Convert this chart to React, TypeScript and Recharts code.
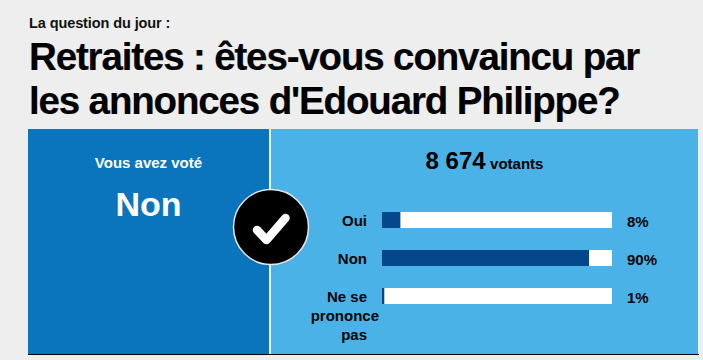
import { BarChart, Bar, XAxis, YAxis, LabelList } from 'recharts'

const categories = ['Oui', 'Non', 'Ne se prononce pas']
const shares = [8, 90, 1]

const FONT = '"Liberation Sans", Arial, sans-serif'

const rows = categories.map((name, i) => ({ name, share: shares[i] }))

// multi-line labels, "prononce" hangs out past the right edge like in the source
const CategoryTick = ({ x, y, payload }: any) => {
  const words = payload.value === 'Ne se prononce pas' ? ['Ne se', 'prononce', 'pas'] : [payload.value]
  return (
    <g>
      {words.map((w: string, i: number) => (
        <text key={w} x={w === 'prononce' ? x + 12 : x} y={y + 6 + i * 19} textAnchor="end" fontFamily={FONT} fontSize={15} fontWeight={700} fill="#050505">
          {w}
        </text>
      ))}
    </g>
  )
}

export default function App() {
  return (
    <div style={{ position: 'absolute', left: 0, top: 0, width: 703, height: 360, background: '#eeeeee', overflow: 'hidden', fontFamily: FONT, color: '#000' }}>
      <div style={{ position: 'absolute', left: 29, top: 15, fontSize: 14.5, fontWeight: 700, color: '#111', letterSpacing: -0.1 }}>La question du jour :</div>
      <div style={{ position: 'absolute', left: 29, top: 35, fontSize: 38.5, lineHeight: '44px', fontWeight: 700, letterSpacing: -1.15, whiteSpace: 'nowrap', WebkitTextStroke: '0.2px #000' }}>
        Retraites : êtes-vous convaincu par<br />les annonces d'Edouard Philippe?
      </div>

      <div style={{ position: 'absolute', left: 28, top: 129, width: 241, height: 225, background: '#0a75bc' }} />
      <div style={{ position: 'absolute', left: 271, top: 129, width: 427, height: 225, background: '#4ab2e6' }} />
      <div style={{ position: 'absolute', left: 28, top: 354, width: 671, height: 1, background: '#000' }} />

      <div style={{ position: 'absolute', left: 28, top: 154, width: 241, textAlign: 'center', fontSize: 15, fontWeight: 700, color: '#fff' }}>Vous avez voté</div>
      <div style={{ position: 'absolute', left: 28, top: 185, width: 241, textAlign: 'center', fontSize: 34, fontWeight: 700, color: '#fff' }}>Non</div>
      <div style={{ position: 'absolute', left: 271, top: 147, width: 427, textAlign: 'center', fontWeight: 700 }}>
        <span style={{ fontSize: 24 }}>8 674</span> <span style={{ fontSize: 15 }}>votants</span>
      </div>

      <div style={{ position: 'absolute', left: 0, top: 0 }}>
        <BarChart width={703} height={360} data={rows} layout="vertical" margin={{ top: 201, right: 91, bottom: 45, left: 0 }} barSize={16}>
          <XAxis type="number" domain={[0, 100]} hide />
          <YAxis type="category" dataKey="name" width={382} axisLine={false} tickLine={false} tickMargin={9} interval={0} tick={<CategoryTick />} />
          <Bar dataKey="share" fill="#04478a" background={{ fill: '#ffffff' }} isAnimationActive={false}>
            <LabelList
              dataKey="share"
              content={({ y, height, value }: any) => (
                <text x={627} y={y + height / 2 + 7} fontFamily={FONT} fontSize={15} fontWeight={700} fill="#050505">{value}%</text>
              )}
            />
          </Bar>
        </BarChart>
      </div>

      <svg width={80} height={80} style={{ position: 'absolute', left: 231, top: 187 }}>
        <circle cx={40} cy={40} r={37.5} fill="#000" stroke="#e6e6e6" strokeWidth={1.5} />
        <path d="M26 43 L35.5 53 L54.5 31" fill="none" stroke="#fff" strokeWidth={8.5} strokeLinecap="round" strokeLinejoin="round" />
      </svg>
    </div>
  )
}
